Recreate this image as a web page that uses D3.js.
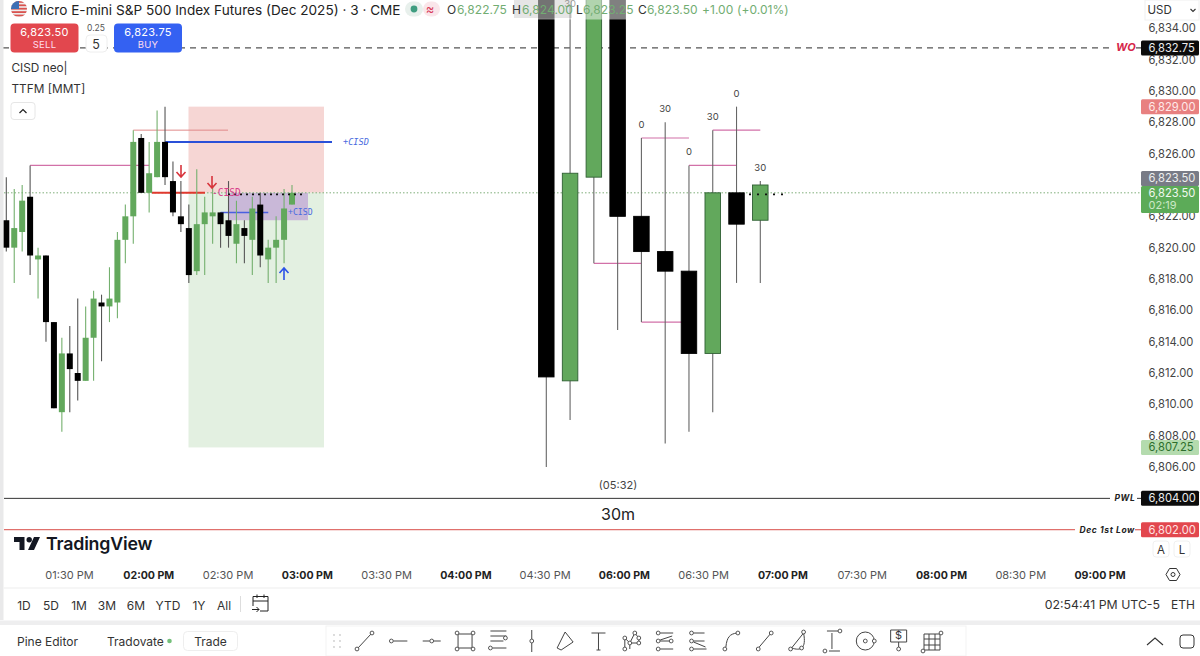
<!DOCTYPE html>
<html>
<head>
    <meta charset="utf-8">
    <style>
        html, body { margin: 0; padding: 0; background: #fff; overflow: hidden; }
        svg { display: block; font-family: Inter, 'Liberation Sans', sans-serif; }
    </style>
</head>
<body>
<svg width="1200" height="656"></svg>
<script src="https://d3js.org/d3.v7.min.js"></script>
<script>
    const bars3m = [
        [6821.75, 6824.5, 6819.75, 6820], [6820, 6823.75, 6817.75, 6821.25], [6821, 6824, 6819.75, 6823],
        [6823.25, 6825.25, 6818.25, 6819.5], [6819.25, 6820, 6816.75, 6819.5], [6819.5, 6819.5, 6814, 6815.25],
        [6815.25, 6815.25, 6809.75, 6809.75], [6809.5, 6814.25, 6808.25, 6813.25], [6813.25, 6815, 6809.5, 6812.25],
        [6812, 6816.75, 6810.25, 6811.5], [6811.5, 6816.25, 6811.5, 6814.25], [6814.25, 6817.25, 6811.5, 6816.75],
        [6816.5, 6817, 6812.75, 6816.25], [6816.25, 6818.75, 6815.25, 6816.75], [6816.5, 6821, 6815.5, 6820.5],
        [6820.5, 6822.75, 6819, 6822], [6822, 6827.5, 6820.25, 6826.75], [6827, 6827.25, 6823.5, 6823.5],
        [6823.5, 6826.75, 6822.25, 6824.75], [6824.5, 6828.75, 6824.5, 6826.75], [6826.75, 6829, 6824, 6824.5],
        [6824.25, 6825.5, 6822, 6822.25], [6822, 6824.25, 6821, 6821.5], [6821.25, 6822.75, 6817.75, 6818.25],
        [6818.5, 6825, 6818.25, 6821.5], [6821.5, 6823.25, 6818.25, 6822.25], [6822, 6824, 6820.25, 6822.25],
        [6822.25, 6822.25, 6820, 6821.5], [6821.75, 6824.25, 6820, 6820.75], [6820.25, 6823, 6819, 6821.5],
        [6821.25, 6821.75, 6819, 6820.75], [6820.5, 6823.25, 6818.25, 6822.5], [6822.75, 6823.5, 6818.75, 6819.5],
        [6819.25, 6820.5, 6817.75, 6820], [6820, 6822, 6817.75, 6820.5], [6820.5, 6823.75, 6819, 6822.5],
        [6822.75, 6824, 6822.75, 6823.5]
    ];
    // 30m pane, first bars run past the top of the chart
    const bars30m = [
        [6838, 6838, 6806, 6811.75], [6811.5, 6835.5, 6809, 6824.75], [6824.5, 6838, 6819, 6838],
        [6838, 6838, 6814.75, 6822], [6822, 6827, 6815.25, 6819.75], [6819.75, 6828, 6807.5, 6818.5],
        [6818.5, 6825.25, 6808.25, 6813.25], [6813.25, 6827.5, 6809.5, 6823.5], [6823.5, 6829, 6817.75, 6821.5],
        [6821.75, 6824.25, 6817.75, 6824]
    ];
    const minuteMarks = ["", "30", "", "", "0", "30", "0", "30", "0", "30"];

    // [price, from bar, to bar]
    const levels3m = [[6825.25, 3, 18]];
    const levels30m = [[6827, 4, 6], [6825.25, 6, 8], [6827.5, 7, 9], [6819, 2, 4], [6815.25, 4, 6]];

    const priceTicks = d3.range(6806, 6835, 2);
    const timeLabels = ["01:30 PM", "02:00 PM", "02:30 PM", "03:00 PM", "03:30 PM", "04:00 PM", "04:30 PM",
        "06:00 PM", "06:30 PM", "07:00 PM", "07:30 PM", "08:00 PM", "08:30 PM", "09:00 PM"];
    const boldTimes = ["02:00 PM", "03:00 PM", "04:00 PM", "06:00 PM", "07:00 PM", "08:00 PM", "09:00 PM"];
    const ranges = [["1D", 24], ["5D", 51], ["1M", 79], ["3M", 107], ["6M", 136], ["YTD", 168], ["1Y", 199], ["All", 224]];

    const GREEN = "#62a85c", EDGE = "#2f5f33", PINK = "#d271a8";

    const svg = d3.select("svg");
    const y = d3.scaleLinear().domain([6834, 6802]).range([28.3, 529.7]);
    const x3 = d3.scaleLinear().domain([0, 36]).range([6.3, 292]);
    const x30 = d3.scaleLinear().domain([0, 9]).range([546.3, 760.3]);
    const xTime = d3.scalePoint().domain(timeLabels).range([69.5, 1100]);

    svg.append("rect").attr("width", 1200).attr("height", 656).attr("fill", "#fff");

    // zones behind the candles
    const chart = svg.append("g");
    function zone(x0, x1, p0, p1, fill) {
        chart.append("rect").attr("x", x0).attr("width", x1 - x0)
            .attr("y", y(p0)).attr("height", y(p1) - y(p0)).attr("fill", fill);
    }
    zone(188.5, 324, 6829, 6823.5, "#f6d6d4");
    zone(188.5, 324, 6823.5, 6807.25, "#e3f0e1");
    zone(228, 308, 6823.5, 6821.75, "#c9b8d8");

    function hline(p, x0, x1, color, w, dash) {
        chart.append("line").attr("x1", x0).attr("x2", x1).attr("y1", y(p)).attr("y2", y(p))
            .attr("stroke", color).attr("stroke-width", w).attr("stroke-dasharray", dash || null);
    }
    hline(6823.5, 4, 1140, "#7fae7a", 1, "1.5 2");
    hline(6832.75, 3, 1114, "#555", 1.3, "6 5");
    hline(6832.75, 1136, 1141, "#555", 1.3);
    hline(6804, 4, 1110, "#333", 1);
    hline(6804, 1137, 1141, "#333", 1);
    hline(6802, 4, 1075, "#e0706c", 1.3);
    hline(6802, 1135, 1141, "#e0706c", 1.3);

    // level lines of the 3m pane
    levels3m.forEach(d => hline(d[0], x3(d[1]), x3(d[2]), PINK, 1.4));
    hline(6827.5, x3(16), 228, "#e08a8a", 1);
    hline(6826.75, x3(20), 332, "#2a50d8", 2);
    hline(6823.5, 152, 205, "#e0392e", 2);
    hline(6822.25, x3(27), x3(32) + 8, "#4a5fe0", 1.5);

    function drawBars(data, xs, bodyW, wickOf, edgeOf, edgeW) {
        const g = chart.append("g");
        g.selectAll("line").data(data).join("line")
            .attr("x1", (d, i) => xs(i)).attr("x2", (d, i) => xs(i))
            .attr("y1", d => y(d[1])).attr("y2", d => y(d[2]))
            .attr("stroke", wickOf).attr("stroke-width", 1.1);
        g.selectAll("rect").data(data).join("rect")
            .attr("x", (d, i) => xs(i) - bodyW / 2).attr("width", bodyW)
            .attr("y", d => y(Math.max(d[0], d[3])))
            .attr("height", d => Math.max(1, Math.abs(y(d[0]) - y(d[3]))))
            .attr("fill", d => d[3] >= d[0] ? GREEN : "#000")
            .attr("stroke", edgeOf).attr("stroke-width", edgeW);
    }
    drawBars(bars3m, x3, 6, d => d[3] >= d[0] ? "#74b06e" : "#555", () => "none", 0);
    levels30m.forEach(d => hline(d[0], x30(d[1]), x30(d[2]), PINK, 1.1));
    drawBars(bars30m, x30, 15.5, () => "#666", d => d[3] >= d[0] ? EDGE : "#000", 0.9);

    // small dotted marks over the last bars
    hline(6823.4, 228, 306, "#111", 1.6, "2 4");
    hline(6823.4, 749, 784, "#111", 1.6, "2 6");

    svg.append("g").selectAll("text").data(bars30m.map((d, i) => [d, i]).filter(d => minuteMarks[d[1]]))
        .join("text")
        .attr("x", d => x30(d[1])).attr("y", d => Math.max(y(d[0][1]) - 10, 7))
        .attr("text-anchor", "middle").attr("font-size", 9.5).attr("fill", "#444")
        .text(d => minuteMarks[d[1]]);

    // CISD tags and arrows
    function tag(txt, px, p, color, size, italic) {
        svg.append("text").attr("x", px).attr("y", y(p) + 3).attr("font-family", "'DejaVu Sans Mono', monospace")
            .attr("font-style", italic ? "italic" : null).attr("font-size", size).attr("fill", color).text(txt);
    }
    tag("+CISD", 343, 6826.75, "#4a6be0", 8.6, true);
    tag("-CISD", 212, 6823.5, "#d83f8c", 9.6, false);
    tag("+CISD", 288, 6822.25, "#4a6be0", 8.2, false);
    function arrow(cx, tip, dir, color) {
        svg.append("path").attr("fill", "none").attr("stroke", color).attr("stroke-width", 1.6)
            .attr("d", `M${cx},${tip - dir * 12}V${tip}M${cx - 4.5},${tip - dir * 5}L${cx},${tip}L${cx + 4.5},${tip - dir * 5}`);
    }
    arrow(181, 177, 1, "#d8343c");
    arrow(212, 188, 1, "#d8343c");
    arrow(284, 268, -1, "#2b52e8");

    // header: everything under the legend row gets washed out
    svg.append("rect").attr("x", 4).attr("width", 1132).attr("height", 19.5).attr("fill", "#fff").attr("opacity", 0.5);
    svg.append("rect").attr("x", 514).attr("width", 58).attr("height", 18).attr("fill", "#000").attr("opacity", 0.1);
    svg.append("rect").attr("width", 3.5).attr("height", 620).attr("fill", "#e9e9ea");
    svg.append("rect").attr("y", 620.5).attr("width", 1200).attr("height", 4.5).attr("fill", "#eeeeef");
    svg.append("rect").attr("y", 587.5).attr("x", 3.5).attr("width", 1196.5).attr("height", 1).attr("fill", "#eee");

    const text = (t, px, py, size, fill, opts = {}) => svg.append("text").attr("x", px).attr("y", py)
        .attr("font-size", size).attr("fill", fill).attr("text-anchor", opts.anchor || "start")
        .attr("font-weight", opts.weight || null).attr("font-style", opts.style || null)
        .attr("letter-spacing", opts.spacing || null).text(t);

    // flag
    const defs = svg.append("defs");
    defs.append("clipPath").attr("id", "flag").append("circle").attr("cx", 19).attr("cy", 9).attr("r", 8);
    const flag = svg.append("g").attr("clip-path", "url(#flag)");
    flag.append("rect").attr("x", 10).attr("y", 0).attr("width", 18).attr("height", 18).attr("fill", "#eee");
    d3.range(0, 5).forEach(i => flag.append("rect").attr("x", 10).attr("y", 1 + i * 3.4).attr("width", 18).attr("height", 1.8).attr("fill", "#d9534f"));
    flag.append("rect").attr("x", 10).attr("y", 0).attr("width", 9).attr("height", 9).attr("fill", "#3c6fb5");

    text("Micro E-mini S&P 500 Index Futures (Dec 2025) · 3 · CME", 31, 14.8, 13.6, "#222");
    svg.append("rect").attr("x", 405).attr("y", 1.5).attr("width", 18).attr("height", 15).attr("rx", 7.5).attr("fill", "#e8f0ec");
    svg.append("rect").attr("x", 423).attr("y", 1.5).attr("width", 17).attr("height", 15).attr("rx", 7.5).attr("fill", "#fae6ea");
    svg.append("circle").attr("cx", 414).attr("cy", 9).attr("r", 3.4).attr("fill", "#3f9d80");
    text("≈", 430, 13.5, 13, "#d8405c", { anchor: "middle" });

    const OH = "#72ad72";
    [["O", 447, "#333"], ["6,822.75", 457, OH], ["H", 512, "#333"], ["6,824.00", 522, OH], ["L", 576, "#333"], ["6,823.25", 583, OH],
     ["C", 638, "#333"], ["6,823.50", 647, OH], ["+1.00", 702, OH], ["(+0.01%)", 737, OH]]
        .forEach(d => text(d[0], d[1], 14, 12, d[2], { spacing: 0.05 }));

    // order buttons
    function button(px, w, fill, top, bottom) {
        svg.append("rect").attr("x", px).attr("y", 23.5).attr("width", w).attr("height", 29).attr("rx", 4).attr("fill", fill);
        text(top, px + w / 2, 36, 11, "#fff", { anchor: "middle", spacing: 0.3 });
        text(bottom, px + w / 2, 48, 9.5, "#fde", { anchor: "middle", spacing: 0.3 });
    }
    button(10.5, 68, "#e2474e", "6,823.50", "SELL");
    button(114, 68, "#3461f2", "6,823.75", "BUY");
    svg.append("rect").attr("x", 86).attr("y", 35).attr("width", 21).attr("height", 17).attr("rx", 4).attr("fill", "#fff").attr("stroke", "#eee");
    text("0.25", 96, 31, 8.5, "#555", { anchor: "middle" });
    text("5", 96, 49, 12.5, "#333", { anchor: "middle" });

    text("CISD neo|", 11.5, 72, 11.8, "#333");
    text("TTFM [MMT]", 11.5, 93, 11.8, "#333");
    svg.append("rect").attr("x", 11).attr("y", 102.5).attr("width", 24).attr("height", 17).attr("rx", 3).attr("fill", "#fff").attr("stroke", "#e6e6e6");
    svg.append("path").attr("d", "M19.5,113L23,109.5L26.5,113").attr("fill", "none").attr("stroke", "#222").attr("stroke-width", 1.2);

    // price axis
    svg.append("rect").attr("x", 1141).attr("width", 59).attr("height", 540).attr("fill", "#fff");
    svg.append("g").selectAll("text").data(priceTicks).join("text")
        .attr("x", 1148.5).attr("y", d => y(d) + 4).attr("font-size", 11.2).attr("fill", "#444")
        .text(d3.format(",.2f"));

    function badge(p, fill, color) {
        svg.append("rect").attr("x", 1141).attr("y", y(p) - 7.5).attr("width", 58).attr("height", 15).attr("rx", 1.5).attr("fill", fill);
        text(d3.format(",.2f")(p), 1148.5, y(p) + 4, 11.2, color);
    }
    badge(6832.75, "#0c0c0c", "#eee");
    badge(6829, "#e88080", "#ffe9e9");
    svg.append("rect").attr("x", 1141).attr("y", 171).attr("width", 58).attr("height", 15).attr("rx", 1.5).attr("fill", "#787b86");
    text("6,823.50", 1148.5, 182, 11.2, "#eee");
    svg.append("rect").attr("x", 1141).attr("y", 186).attr("width", 58).attr("height", 27).attr("rx", 1.5).attr("fill", "#5cab58");
    text("6,823.50", 1148.5, 197, 11.2, "#f1f8ef");
    text("02:19", 1148.5, 209, 11, "#cbe8c6");
    badge(6807.25, "#b4dbae", "#2c6e2c");
    badge(6804, "#0c0c0c", "#eee");
    badge(6802, "#e2474e", "#ffe4e4");

    // currency box
    svg.append("rect").attr("x", 1145).attr("y", 0).attr("width", 54).attr("height", 20).attr("fill", "#fff").attr("stroke", "#f0f0f0");
    text("USD", 1147.5, 14, 11.5, "#333");
    svg.append("path").attr("d", "M1190.5,9L1193,11.5L1195.5,9").attr("fill", "none").attr("stroke", "#333").attr("stroke-width", 1.1);

    // line tags
    text("WO", 1116, 51, 11, "#d6284b", { weight: 700, style: "italic" });
    text("PWL", 1114.5, 500.5, 8.5, "#222", { weight: 700, style: "italic", spacing: 0.6 });
    text("Dec 1st Low", 1079.5, 533, 8.5, "#222", { weight: 700, style: "italic", spacing: 0.6 });
    text("(05:32)", 618, 489, 11, "#444", { anchor: "middle" });
    text("30m", 618, 519.5, 16, "#222", { anchor: "middle" });

    // TradingView mark
    svg.append("path").attr("fill", "#131722").attr("d", "M14,537h10.5v13h-5v-8h-5.5zM34,537h6l-6,13h-6z");
    svg.append("circle").attr("cx", 29.2).attr("cy", 539.7).attr("r", 2.7).attr("fill", "#131722");
    text("TradingView", 46, 550, 17.8, "#131722", { weight: 600, spacing: -0.2 });

    svg.append("g").selectAll("text").data(timeLabels).join("text")
        .attr("x", d => xTime(d)).attr("y", 579).attr("text-anchor", "middle")
        .attr("font-size", d => boldTimes.includes(d) ? 10.6 : 11)
        .attr("font-weight", d => boldTimes.includes(d) ? 700 : 400)
        .attr("fill", d => boldTimes.includes(d) ? "#222" : "#555").text(d => d);

    // A L buttons and settings hexagon
    [["A", 1161], ["L", 1182]].forEach(d => {
        svg.append("rect").attr("x", d[1] - 8).attr("y", 541).attr("width", 16).attr("height", 16).attr("rx", 3).attr("fill", "#fff").attr("stroke", "#f0f0f0");
        text(d[0], d[1], 553.5, 11.5, "#333", { anchor: "middle" });
    });
    svg.append("path").attr("fill", "none").attr("stroke", "#333").attr("stroke-width", 1)
        .attr("d", "M1166,574.5l3.5,-6h7l3.5,6l-3.5,6h-7z");
    svg.append("circle").attr("cx", 1173).attr("cy", 574.5).attr("r", 2).attr("fill", "none").attr("stroke", "#333");

    // range row
    ranges.forEach(d => text(d[0], d[1], 610, 12, "#333", { anchor: "middle" }));
    svg.append("line").attr("x1", 240.5).attr("x2", 240.5).attr("y1", 596).attr("y2", 612).attr("stroke", "#ddd");
    svg.append("path").attr("fill", "none").attr("stroke", "#222")
        .attr("d", "M253,606v-9.5h15v14.5h-8M253,601h15M257,594.5v3.5M264,594.5v3.5M252,609.5h7M256.5,607l2.5,2.5l-2.5,2.5");
    text("02:54:41 PM UTC-5", 1160, 609, 12.3, "#333", { anchor: "end" });
    text("ETH", 1183, 609, 12, "#333", { anchor: "middle" });

    // bottom bar
    text("Pine Editor", 17, 646, 12, "#333");
    text("Tradovate", 107, 646, 12, "#333");
    svg.append("circle").attr("cx", 169.5).attr("cy", 641).attr("r", 2.3).attr("fill", "#74c07a");
    svg.append("rect").attr("x", 183.5).attr("y", 631.5).attr("width", 54).attr("height", 19).attr("rx", 4).attr("fill", "#fff").attr("stroke", "#eee");
    text("Trade", 210.5, 646, 12, "#333", { anchor: "middle" });
    svg.append("rect").attr("x", 326).attr("y", 626).attr("width", 640).attr("height", 30).attr("fill", "#fff").attr("stroke", "#f3f3f3");

    // drawing toolbar: stroke path and handle dots for each icon
    const toolPaths = [
        "M-7,7L6,-7", "M-5,0H9", "M-9,-0H-2M2,0H9", "M-7,-7H7V7H-7Z", "M-8,-10H8M-8,-5H8M-8,0H5M-6,7H8", "M0,-11V-2M0,2V11",
        "M-8,7L0,-9M-4,9L8,1M-8,7L-4,9M0,-9L8,1", "M-7,-8H7M0,-8V9M-2,9H2", "M-7,8V-3L-2,2V8M-2,2L3,-8L7,-3V2L-2,2",
        "M-5,-8H8M-5,8H8M-5,0H4M-5,-1L7,-5", "M-5,-8H6M-5,8H8M-5,0H6M-5,1L7,6", "M-6,6C-5,-4 -2,-7 5,-8", "M-6,6L5,-7",
        "M-7,7C2,10 8,8 5,-8C1,-3 -3,2 -7,7", "M0,-8V8M-5,-10H7M-3,10H8", "M-9,0A9,9 0 1 1 9,0A9,9 0 1 1 -9,0",
        "M-8,-11H8V1H-8ZM0,1V6", "M-8,-7H8V9H-8ZM-3,-7V9M3,-7V9M-8,-2H8M-8,4H8"
    ];
    const toolDots = [
        [[-8, 8], [7, -8]], [[-7, 0]], [[0, 0]], [[-8, -8], [8, -8], [-8, 8], [8, 8]], [[7, -3], [-8, 7]], [[0, 0]],
        [], [], [[-7, 8], [-7, -3], [-2, 2], [3, -8], [7, -3], [7, 2]],
        [[-7, -8], [-7, 0], [-7, 8], [6, 0]], [[-7, -8], [-7, 0], [-7, 8]], [[-7, 8], [6, -8]], [[-7, 8], [6, -8]],
        [[5, -9], [-8, 8], [3, 7]], [[-7, 10], [8, -10]], [[0, 0], [9, 0]], [[0, 8]], [[-9, 10], [9, -8]]
    ];
    const xTools = d3.scalePoint().domain(d3.range(toolPaths.length)).range([365, 932]);
    const tools = svg.append("g").selectAll("g").data(toolPaths).join("g")
        .attr("transform", (d, i) => `translate(${xTools(i)},641)`);
    tools.append("path").attr("d", d => d).attr("fill", "none").attr("stroke", "#444").attr("stroke-width", 1);
    tools.selectAll("circle").data((d, i) => toolDots[i]).join("circle")
        .attr("cx", d => d[0]).attr("cy", d => d[1]).attr("r", 1.9)
        .attr("fill", "#fff").attr("stroke", "#444").attr("stroke-width", 0.9);
    text("$", xTools(16), 639, 11, "#333", { anchor: "middle" });
    d3.range(3).forEach(r => d3.range(2).forEach(c => svg.append("circle").attr("cx", 334 + c * 6).attr("cy", 635 + r * 6).attr("r", 0.9).attr("fill", "#ccc")));

    svg.append("path").attr("d", "M1147,645L1155,638L1163,645").attr("fill", "none").attr("stroke", "#333").attr("stroke-width", 1.1);
    svg.append("rect").attr("x", 1180).attr("y", 635).attr("width", 14).attr("height", 13).attr("rx", 3).attr("fill", "none").attr("stroke", "#333");
</script>
</body>
</html>
